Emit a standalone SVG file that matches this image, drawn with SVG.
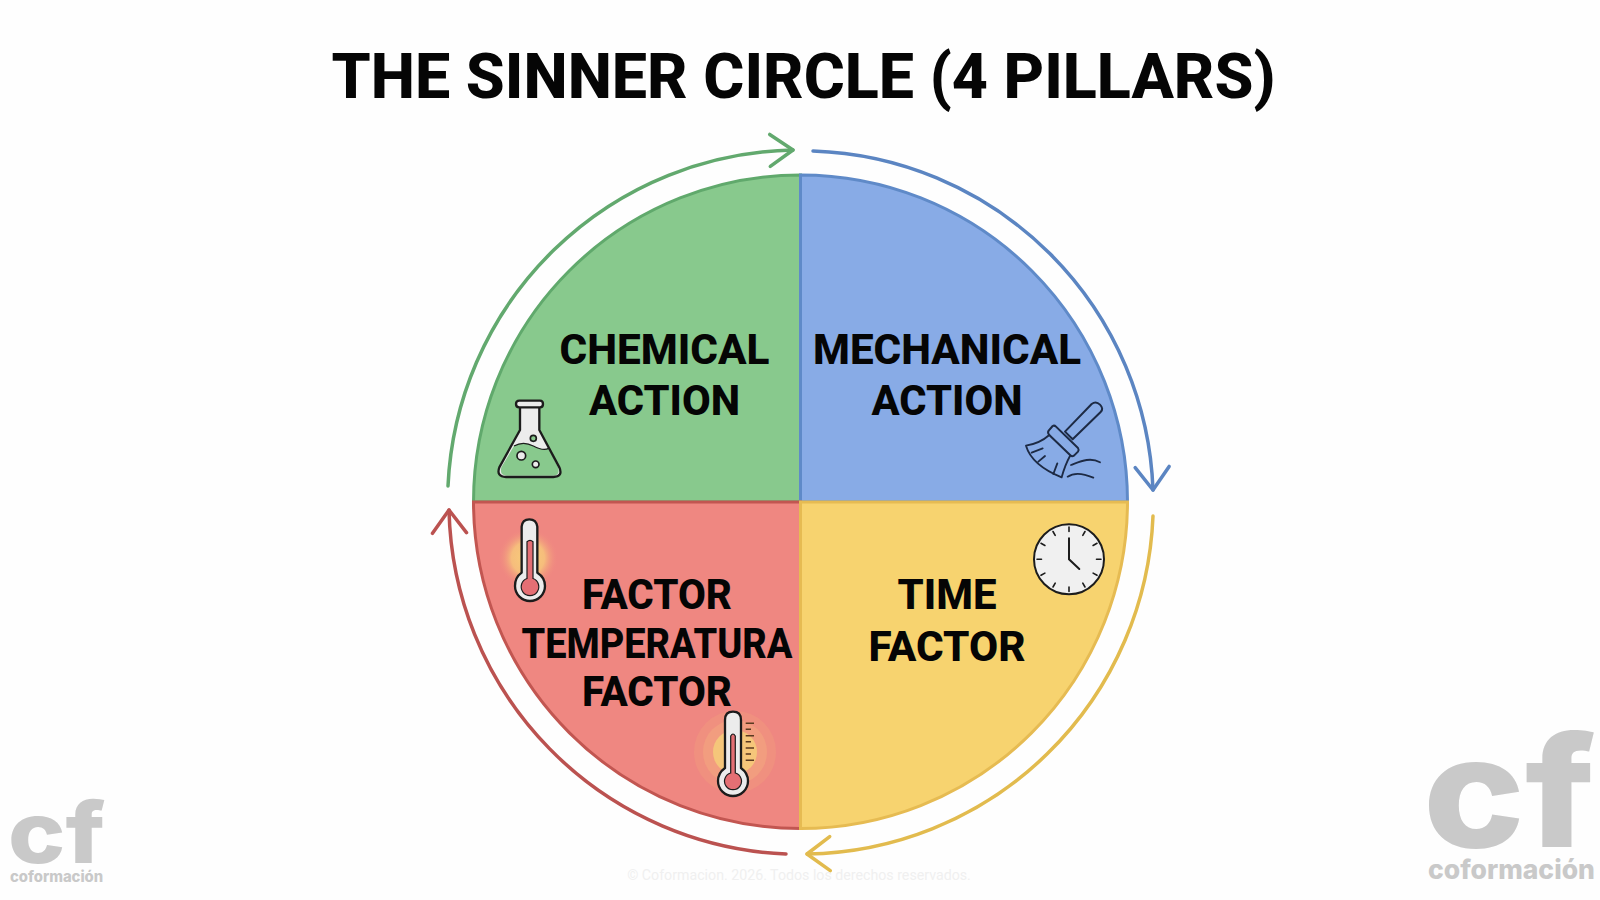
<svg xmlns="http://www.w3.org/2000/svg" width="1600" height="900" viewBox="0 0 1600 900">
<style>
.t{font-family:Roboto,"Liberation Sans",sans-serif;font-weight:800;fill:#050505;text-anchor:middle}
.lab{font-size:42px}
.wm{font-family:Inter,"Liberation Sans",sans-serif;font-weight:800;fill:#c9c9c9}
.arc{fill:none;stroke-width:3.5;stroke-linecap:round}
.q{stroke-width:3}
.ic{stroke:#1c1c1c;stroke-width:7;stroke-linejoin:round;stroke-linecap:round}
.head{fill:none;stroke-width:3.5;stroke-linecap:round;stroke-linejoin:round}
</style>
<defs>
<radialGradient id="glow"><stop offset="0" stop-color="#f8cf78"/><stop offset=".55" stop-color="#f6bd7c"/><stop offset="1" stop-color="#f08880" stop-opacity="0"/></radialGradient>
<marker id="hg" markerUnits="userSpaceOnUse" markerWidth="60" markerHeight="60" viewBox="-40 -30 60 60" refX="0" refY="0" orient="auto"><path class="head" stroke="#62a96e" d="M-23-16 0 0-23 16"/></marker>
<marker id="hb" markerUnits="userSpaceOnUse" markerWidth="60" markerHeight="60" viewBox="-40 -30 60 60" refX="0" refY="0" orient="auto"><path class="head" stroke="#5b85c2" d="M-23-17 0 0-23 17"/></marker>
<marker id="hy" markerUnits="userSpaceOnUse" markerWidth="60" markerHeight="60" viewBox="-40 -30 60 60" refX="0" refY="0" orient="auto"><path class="head" stroke="#e2bb4e" d="M-23-17 0 0-23 17"/></marker>
<marker id="hr" markerUnits="userSpaceOnUse" markerWidth="60" markerHeight="60" viewBox="-40 -30 60 60" refX="0" refY="0" orient="auto"><path class="head" stroke="#bb5250" d="M-23-17 0 0-23 17"/></marker>
</defs>
<rect width="1600" height="900" fill="#fefefe"/>
<text id="title" class="t" x="803.5" y="97.5" font-size="63" textLength="944" lengthAdjust="spacingAndGlyphs">THE SINNER CIRCLE (4 PILLARS)</text>

<g id="chemical-action">
<path class="q" fill="#88c98d" stroke="#60a96c" d="M800.5 502H473.5A327 327 0 0 1 800.5 175Z"/>
<text class="t lab" x="664.5" y="364" textLength="210" lengthAdjust="spacingAndGlyphs">CHEMICAL</text><text class="t lab" x="664.5" y="414.500" textLength="151" lengthAdjust="spacingAndGlyphs">ACTION</text>
<g transform="translate(470 380) scale(.3333)">
<path fill="#ececec" d="M150 80V150L88 262Q78 290 108 291H250Q280 290 268 262L208 150V80Z"/>
<path fill="#88c98d" d="M132 198Q160 182 190 198T236 205L264 262Q272 287 248 287H110Q88 287 94 262Z"/>
<path class="ic" fill="none" d="M150 80V150L88 262Q78 290 108 291H250Q280 290 268 262L208 150V80"/>
<path fill="#ececec" class="ic" d="M148 62H210Q219 62 219 72T210 82H148Q138 82 138 72T148 62Z"/>
<path fill="none" stroke="#1c1c1c" stroke-width="4" d="M132 198Q160 182 190 198T236 205"/>
<circle cx="190" cy="175" r="9" fill="#88c98d" stroke="#1c1c1c" stroke-width="5"/>
<circle cx="154" cy="227" r="13" fill="#ececec" stroke="#1c1c1c" stroke-width="5"/>
<circle cx="197" cy="253" r="10" fill="#ececec" stroke="#1c1c1c" stroke-width="5"/>
</g>
</g>

<g id="mechanical-action">
<path class="q" fill="#88abe6" stroke="#5f8ac8" d="M800.5 502V175A327 327 0 0 1 1127.5 502Z"/>
<text class="t lab" x="947" y="364" textLength="268" lengthAdjust="spacingAndGlyphs">MECHANICAL</text><text class="t lab" x="947" y="414.500" textLength="151" lengthAdjust="spacingAndGlyphs">ACTION</text>
<g transform="translate(990 380) scale(.3333)" stroke="#1d2a44" fill="none" stroke-linecap="round" stroke-linejoin="round">
<path stroke-width="6" d="M305 72Q318 62 330 74T332 96L248 178 225 155Z"/>
<path stroke-width="6" d="M176 152 188 138Q193 135 198 140L264 204Q268 210 264 215L252 227Q246 231 241 226L177 164Q172 158 176 152Z"/>
<path stroke-width="5.5" d="M178 165Q150 190 108 197Q125 255 215 292Q225 255 240 228"/>
<path stroke-width="5.5" d="M125 218 158 205M145 245 165 228M190 282 202 250M243 255C270 245 300 230 330 247M233 290C255 275 280 280 310 293"/>
</g>
</g>

<g id="temperature-factor">
<path class="q" fill="#ef8781" stroke="#c25651" d="M800.5 502V828.5A327 327 0 0 1 473.5 502Z"/>
<circle cx="528" cy="558" r="30" fill="url(#glow)"/>
<path fill="#ececec" class="ic" transform="translate(470 380) scale(.3333)" d="M155 440Q157 418 178 418T202 440V578Q225 592 225 618A45 45 0 0 1 135 618Q135 592 155 578Z"/>
<path fill="#e46f74" stroke="#1c1c1c" stroke-width="1.2" d="M527 541.7Q530 539 533 541.7V578.5A8.8 8.8 0 1 1 527 578.5Z"/>
<text class="t lab" x="657" y="609" textLength="150" lengthAdjust="spacingAndGlyphs">FACTOR</text><text class="t lab" x="657" y="657.5" textLength="271" lengthAdjust="spacingAndGlyphs">TEMPERATURA</text><text class="t lab" x="657" y="706" textLength="150" lengthAdjust="spacingAndGlyphs">FACTOR</text>
<circle cx="735" cy="752" r="41" fill="#f0907f"/><circle cx="735" cy="752" r="32" fill="#f29d7f"/><circle cx="735" cy="752" r="22" fill="#f5c67a"/>
<path fill="#ececec" stroke="#1c1c1c" stroke-width="2.3" d="M725 720Q725 711.7 733 711.7T741 720V768Q748 773 748 781A15 15 0 0 1 718 781Q718 773 725 768Z"/>
<path fill="#e46f74" stroke="#1c1c1c" stroke-width="1.2" d="M730.7 736Q733 732 735.3 736V773A8.5 8.5 0 1 1 730.7 773Z"/>
<path stroke="#5b3a20" stroke-width="1.6" fill="none" d="M745.7 723.3H754M745.7 729.3H751M745.7 735.7H754M745.7 741.7H751M745.7 748H754M745.7 754H751M745.7 760.3H754"/>
</g>

<g id="time-factor">
<path class="q" fill="#f7d36f" stroke="#e6bb52" d="M800.5 502H1127.5A327 327 0 0 1 800.5 828.5Z"/>
<text class="t lab" x="947" y="609" textLength="99" lengthAdjust="spacingAndGlyphs">TIME</text><text class="t lab" x="947" y="661" textLength="157" lengthAdjust="spacingAndGlyphs">FACTOR</text>
<circle cx="1069" cy="559.3" r="35" fill="#f0f0f0" stroke="#1c1c1c" stroke-width="2"/>
<g stroke="#1c1c1c" stroke-width="1.6" stroke-linecap="round" fill="none">
<path d="M1069 527v4.5M1069 587v4.5M1037 559.3h4.5M1096.5 559.3h4.5M1053 531.5l2.2 3.9M1085 531.5l-2.2 3.9M1041 543.3l3.9 2.2M1097 543.3l-3.9 2.2M1041 575.3l3.9-2.2M1097 575.3l-3.9-2.2M1053 587l2.2-3.9M1085 587l-2.2-3.9"/>
<path stroke-width="2" d="M1069 538.3V559.3L1079.3 569"/>
</g>
</g>

<g id="connectors">
<path class="arc" stroke="#62a96e" marker-end="url(#hg)" d="M448 486A352 352 0 0 1 793 150"/>
<path class="arc" stroke="#5b85c2" marker-end="url(#hb)" d="M813 151A352 352 0 0 1 1153 490"/>
<path class="arc" stroke="#e2bb4e" marker-end="url(#hy)" d="M1153 516A352 352 0 0 1 807 854"/>
<path class="arc" stroke="#bb5250" marker-end="url(#hr)" d="M786 854A352 352 0 0 1 449 510"/>
</g>

<g id="watermark-left">
<text class="wm" x="8" y="863" font-size="85" textLength="97" lengthAdjust="spacingAndGlyphs">cf</text>
<text class="wm" x="10" y="881.5" font-size="14.8">coformación</text>
</g>
<g id="watermark-right">
<text class="wm" x="1423" y="847" font-size="153" textLength="172" lengthAdjust="spacingAndGlyphs">cf</text>
<text class="wm" x="1428" y="878.5" font-size="26.5">coformación</text>
</g>
<text id="copyright" x="799" y="880" font-size="14.2" text-anchor="middle" font-family="Roboto,'Liberation Sans',sans-serif" fill="#f0f0f0">© Coformacion. 2026. Todos los derechos reservados.</text>
</svg>
